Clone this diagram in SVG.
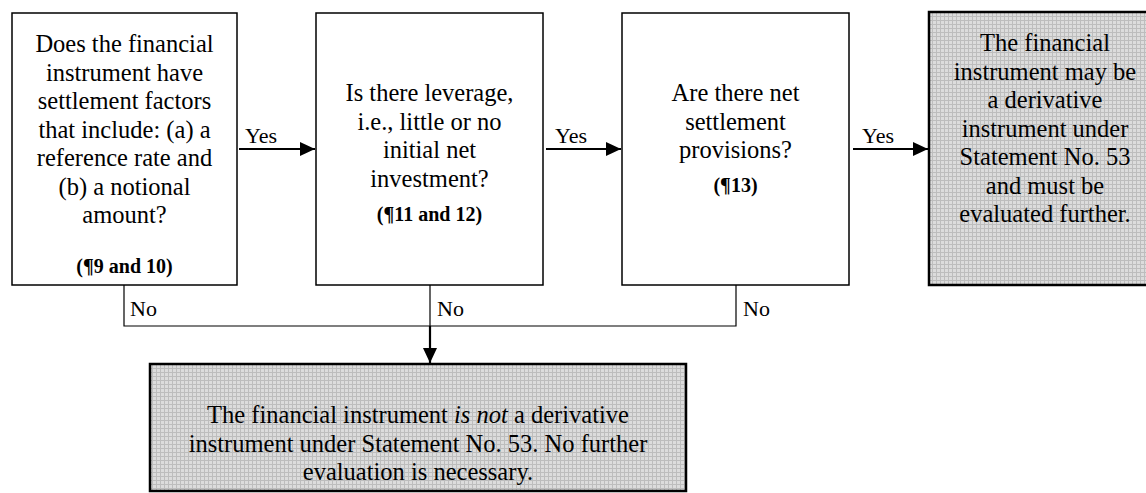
<svg xmlns="http://www.w3.org/2000/svg" width="1146" height="493" viewBox="0 0 1146 493">
<style>
.box{fill:#fff;stroke:#000;stroke-width:1.5}
.gbox{fill:url(#grid);stroke:#000;stroke-width:2.5}
text,tspan{font-family:"Liberation Serif","Times New Roman",serif;fill:#000}
.t{font-family:"Liberation Serif","Times New Roman",serif;font-size:24.5px;text-anchor:middle}
.r{font-family:"Liberation Serif","Times New Roman",serif;font-size:20px;font-weight:bold;text-anchor:middle}
.lbl{font-family:"Liberation Serif","Times New Roman",serif;font-size:22px}
.thin{stroke:#000;stroke-width:1.2;fill:none}
.arr{stroke:#000;stroke-width:2.2;fill:none}
</style>
<defs>
<pattern id="grid" width="4" height="4" patternUnits="userSpaceOnUse">
<rect width="4" height="4" fill="#dcdcdc"/>
<path d="M0 0.5H4M0.5 0V4" stroke="#bdbdbd" stroke-width="1"/>
</pattern>
<marker id="ah" markerWidth="15" markerHeight="14" refX="15" refY="7" orient="auto" markerUnits="userSpaceOnUse">
<path d="M0 0L15 7L0 14Z" fill="#000"/>
</marker>
</defs>
<g id="node1">
<rect class="box" x="12" y="13" width="225" height="272"/>
<text class="t"><tspan x="124.5" y="52">Does the financial</tspan><tspan x="124.5" y="80.5">instrument have</tspan><tspan x="124.5" y="109">settlement factors</tspan><tspan x="124.5" y="137.5">that include: (a) a</tspan><tspan x="124.5" y="166">reference rate and</tspan><tspan x="124.5" y="194.5">(b) a notional</tspan><tspan x="124.5" y="223">amount?</tspan></text>
<text class="r" x="124.5" y="273">(¶9 and 10)</text>
</g>
<g id="node2">
<rect class="box" x="316" y="13" width="227" height="272"/>
<text class="t"><tspan x="429.5" y="101">Is there leverage,</tspan><tspan x="429.5" y="129.5">i.e., little or no</tspan><tspan x="429.5" y="158">initial net</tspan><tspan x="429.5" y="186.5">investment?</tspan></text>
<text class="r" x="429.5" y="221">(¶11 and 12)</text>
</g>
<g id="node3">
<rect class="box" x="622" y="13" width="227" height="272"/>
<text class="t"><tspan x="735.5" y="101">Are there net</tspan><tspan x="735.5" y="129.5">settlement</tspan><tspan x="735.5" y="158">provisions?</tspan></text>
<text class="r" x="735.5" y="192">(¶13)</text>
</g>
<g id="node4">
<rect class="gbox" x="929" y="12" width="230" height="273"/>
<text class="t"><tspan x="1045" y="51">The financial</tspan><tspan x="1045" y="79.5">instrument may be</tspan><tspan x="1045" y="108">a derivative</tspan><tspan x="1045" y="136.5">instrument under</tspan><tspan x="1045" y="165">Statement No. 53</tspan><tspan x="1045" y="193.5">and must be</tspan><tspan x="1045" y="222">evaluated further.</tspan></text>
</g>
<g id="node5">
<rect class="gbox" x="150" y="364" width="536" height="127"/>
<text class="t"><tspan x="418" y="423">The financial instrument <tspan font-style="italic">is not</tspan> a derivative</tspan><tspan x="418" y="451.5">instrument under Statement No. 53. No further</tspan><tspan x="418" y="480">evaluation is necessary.</tspan></text>
</g>
<g id="connectors">
<path class="arr" d="M239 149H315" marker-end="url(#ah)"/>
<path class="arr" d="M546 149H621" marker-end="url(#ah)"/>
<path class="arr" d="M853 149H928" marker-end="url(#ah)"/>
<path class="thin" d="M124 285V326H736V285M430 285V326"/>
<path class="arr" d="M430 326V363" marker-end="url(#ah)"/>
<text class="lbl" x="245" y="143">Yes</text>
<text class="lbl" x="555" y="143">Yes</text>
<text class="lbl" x="862" y="143">Yes</text>
<text class="lbl" x="130" y="316">No</text>
<text class="lbl" x="437" y="316">No</text>
<text class="lbl" x="743" y="316">No</text>
</g>
</svg>
